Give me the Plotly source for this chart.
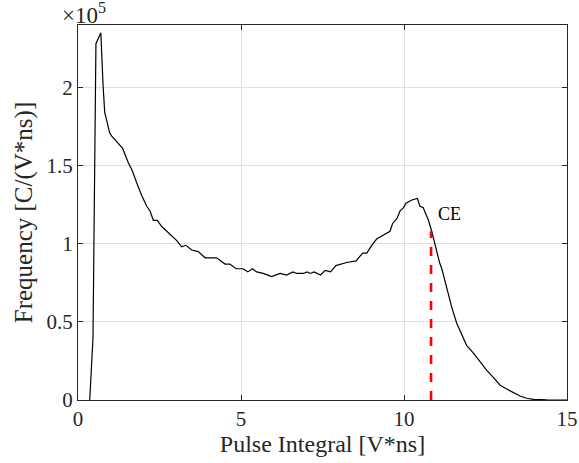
import plotly.graph_objects as go

# Pulse integral [V*ns]
pulse_integral = [
    0.36, 0.46, 0.55, 0.70, 0.77, 0.82, 0.88, 0.97, 1.03, 1.19, 1.37, 1.54, 1.66, 1.80,
    1.95, 2.11, 2.21, 2.31, 2.43, 2.57, 2.72, 2.87, 3.03, 3.18, 3.31, 3.49, 3.69, 3.90,
    4.05, 4.25, 4.51, 4.66, 4.85, 5.06, 5.21, 5.35, 5.48, 5.68, 5.94, 6.20, 6.40, 6.59,
    6.71, 6.91, 7.03, 7.12, 7.24, 7.44, 7.58, 7.75, 7.91, 8.06, 8.24, 8.53, 8.73, 8.86,
    9.01, 9.16, 9.32, 9.47, 9.57, 9.65, 9.78, 9.88, 9.98, 10.06, 10.24, 10.41, 10.49,
    10.59, 10.75, 10.85, 10.95, 11.09, 11.16, 11.31, 11.47, 11.62, 11.77, 11.92, 12.13,
    12.33, 12.54, 12.74, 12.94, 13.15, 13.35, 13.56, 13.76, 13.97, 14.38, 15.0,
]
# Frequency [C/(V*ns)] in units of 1e5
frequency = [
    0.0, 0.40, 2.28, 2.35, 2.01, 1.84, 1.79, 1.71, 1.69, 1.65, 1.61, 1.52, 1.47, 1.39,
    1.31, 1.24, 1.21, 1.15, 1.15, 1.11, 1.08, 1.05, 1.02, 0.98, 0.99, 0.96, 0.95, 0.91,
    0.91, 0.91, 0.87, 0.87, 0.84, 0.84, 0.82, 0.84, 0.82, 0.81, 0.79, 0.81, 0.80, 0.82,
    0.81, 0.81, 0.82, 0.81, 0.82, 0.80, 0.83, 0.82, 0.86, 0.87, 0.88, 0.89, 0.94, 0.94,
    0.99, 1.03, 1.05, 1.07, 1.08, 1.13, 1.16, 1.21, 1.23, 1.26, 1.28, 1.29, 1.24,
    1.23, 1.15, 1.08, 0.99, 0.88, 0.84, 0.71, 0.59, 0.49, 0.42, 0.35, 0.30,
    0.245, 0.19, 0.145, 0.096, 0.07, 0.047, 0.026, 0.011, 0.004, 0.001, 0.0,
]

ce_x = [10.83, 10.83]
ce_y = [0.0, 1.08]
ce_label = "CE"

x_ticks = [0, 5, 10, 15]
y_ticks = [0, 0.5, 1, 1.5, 2]
y_ticktext = ["0", "0.5", "1", "1.5", "2"]

FONT = "Liberation Serif, Times New Roman, serif"
AX = "#262626"

fig = go.Figure()
fig.add_trace(go.Scatter(x=pulse_integral, y=frequency, mode="lines",
                         line=dict(color="black", width=1.2), showlegend=False))
fig.add_trace(go.Scatter(x=ce_x, y=ce_y, mode="lines",
                         line=dict(color="#ff0000", width=2.6, dash="dash"), showlegend=False))

fig.add_annotation(x=10.98, y=1.19, text=ce_label, showarrow=False, xanchor="left",
                   yanchor="middle", font=dict(family=FONT, size=18, color="black"))
fig.add_annotation(x=0, y=1, xref="paper", yref="paper", text="×10<sup>5</sup>",
                   showarrow=False, xanchor="left", yanchor="bottom", xshift=-18, yshift=-5,
                   font=dict(family=FONT, size=23, color=AX))

axis_common = dict(showline=True, linecolor=AX, linewidth=1, mirror="ticks",
                   ticks="inside", ticklen=5, tickcolor=AX, showgrid=True,
                   gridcolor="#e0e0e0", gridwidth=1, zeroline=False,
                   tickfont=dict(family=FONT, size=21, color=AX))

fig.update_xaxes(range=[0, 15], tickvals=x_ticks,
                 title=dict(text="Pulse Integral [V*ns]", font=dict(family=FONT, size=24, color=AX),
                            standoff=2),
                 **axis_common)
fig.update_yaxes(range=[0, 2.4], tickvals=y_ticks, ticktext=y_ticktext,
                 title=dict(text="Frequency [C/(V*ns)]", font=dict(family=FONT, size=25, color=AX),
                            standoff=6),
                 **axis_common)

fig.update_layout(width=579, height=463, margin=dict(l=78, r=12, t=25, b=63, autoexpand=False),
                  plot_bgcolor="white", paper_bgcolor="white")

fig.write_html("out.html", config={"displayModeBar": False},
               post_script="document.body.style.margin='0px';document.body.style.overflow='hidden';")
